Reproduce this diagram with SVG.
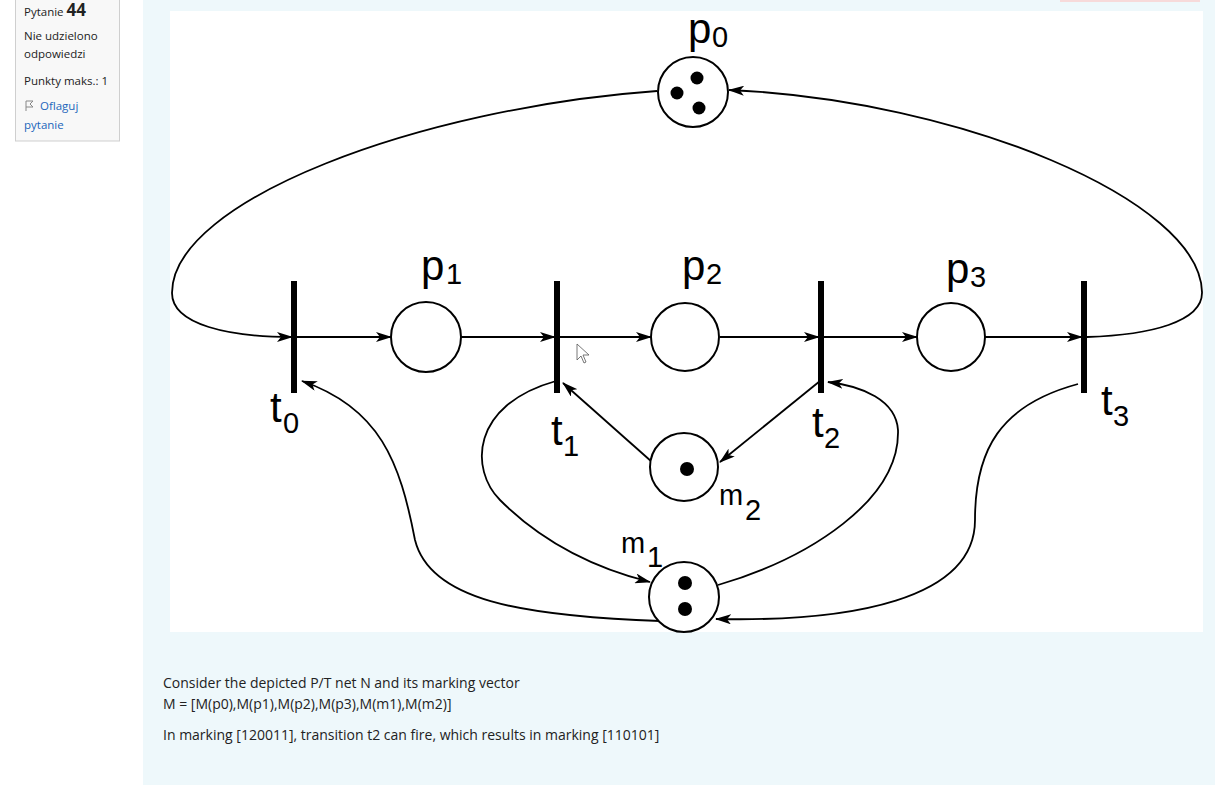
<svg xmlns="http://www.w3.org/2000/svg" width="1224" height="785" viewBox="0 0 1224 785">
<defs>
<marker id="arr" markerWidth="16" markerHeight="10" refX="15" refY="5" orient="auto" markerUnits="userSpaceOnUse">
<path d="M0,0 L16,5 L0,10 L4,5 Z" fill="#000"/>
</marker>
<style>
.pl{fill:#fff;stroke:#000;stroke-width:2}
.tr{fill:#000}
.tk{fill:#000}
.arc{fill:none;stroke:#000;stroke-width:1.8;marker-end:url(#arr)}
.ln{fill:none;stroke:#000;stroke-width:1.8}
.lb{font-family:"Liberation Sans",Arial,sans-serif;font-size:42px;fill:#000}
.sb{font-family:"Liberation Sans",Arial,sans-serif;font-size:29px;fill:#000}
.ui{font-family:"Open Sans","Liberation Sans",sans-serif;font-size:14px;fill:#222}
.side{font-family:"Open Sans","Liberation Sans",sans-serif;font-size:11.5px;fill:#222}
</style>
</defs>
<rect x="0" y="0" width="1224" height="785" fill="#fff"/>
<rect x="143" y="0" width="1072" height="785" fill="#eef8fb"/>
<rect x="1060" y="0" width="140" height="2" fill="#f7dada"/>
<g id="sidebar">
<rect x="15.5" y="-1" width="104" height="142" fill="#f8f8f8" stroke="#cfcfcf"/>
<text x="24" y="16" class="side" font-size="11">Pytanie <tspan font-weight="bold" font-size="17">44</tspan></text>
<text x="24" y="40" class="side">Nie udzielono</text>
<text x="24" y="58" class="side">odpowiedzi</text>
<text x="24" y="85" class="side">Punkty maks.: 1</text>
<path d="M26,101 L26,111 M26,101 L33,101 L30,104 L33,107 L26,107" fill="none" stroke="#888" stroke-width="1"/>
<text x="40" y="110" class="side" fill="#2266bb" style="fill:#2266bb">Oflaguj</text>
<text x="24" y="129" class="side" style="fill:#2266bb">pytanie</text>
</g>
<rect x="170" y="11" width="1033" height="621" fill="#fff"/>
<g id="connectors">
<line class="arc" x1="297" y1="337" x2="391" y2="337"/>
<line class="arc" x1="461" y1="337" x2="555" y2="337"/>
<line class="arc" x1="560" y1="337" x2="651" y2="337"/>
<line class="arc" x1="720" y1="337" x2="819" y2="337"/>
<line class="arc" x1="824" y1="337" x2="917" y2="337"/>
<line class="arc" x1="985" y1="337" x2="1082" y2="337"/>
<path class="arc" d="M657,91 C420,108 172,200 172,293 C172,325 230,337 292,337"/>
<path class="arc" d="M1087,337 C1150,335 1203,322 1202,292 C1200,200 960,100 729,90"/>
<path class="arc" d="M556,381 C470,405 470,470 500,500 C550,550 610,572 650,582"/>
<path class="arc" d="M718,585 C810,558 900,500 898,430 C896,400 862,386 828,382"/>
<line class="arc" x1="652" y1="462" x2="563" y2="383"/>
<line class="arc" x1="820" y1="381" x2="720" y2="462"/>
<path class="arc" d="M660,621 C520,616 430,600 415,540 C400,462 380,408 302,381"/>
<path class="arc" d="M1078,384 C1000,405 975,450 975,520 C975,600 850,622 716,619"/>
</g>
<g id="p0"><circle class="pl" cx="693" cy="92" r="35"/><circle class="tk" cx="697" cy="78" r="6.5"/><circle class="tk" cx="677" cy="93" r="6.5"/><circle class="tk" cx="699" cy="108" r="6.5"/><text class="lb" x="688" y="43">p</text><text class="sb" x="712" y="47">0</text></g>
<g id="p1"><circle class="pl" cx="426" cy="337" r="35"/><text class="lb" x="421" y="280">p</text><text class="sb" x="446" y="284">1</text></g>
<g id="p2"><circle class="pl" cx="685" cy="337" r="34"/><text class="lb" x="682" y="280">p</text><text class="sb" x="706" y="284">2</text></g>
<g id="p3"><circle class="pl" cx="951" cy="337" r="34"/><text class="lb" x="946" y="283">p</text><text class="sb" x="970" y="287">3</text></g>
<g id="m2"><circle class="pl" cx="684" cy="467" r="34"/><circle class="tk" cx="687" cy="469" r="7"/><text class="sb" x="719" y="505">m</text><text class="sb" x="745" y="520">2</text></g>
<g id="m1"><circle class="pl" cx="684" cy="597" r="35"/><circle class="tk" cx="685" cy="583" r="7"/><circle class="tk" cx="685" cy="609" r="7"/><text class="sb" x="621" y="553">m</text><text class="sb" x="647" y="567">1</text></g>
<g id="t0"><rect class="tr" x="291" y="281" width="6" height="112"/><text class="lb" x="270" y="422">t</text><text class="sb" x="283" y="433">0</text></g>
<g id="t1"><rect class="tr" x="554" y="281" width="6" height="112"/><text class="lb" x="551" y="445">t</text><text class="sb" x="563" y="456">1</text></g>
<g id="t2"><rect class="tr" x="818" y="281" width="6" height="112"/><text class="lb" x="812" y="437">t</text><text class="sb" x="824" y="448">2</text></g>
<g id="t3"><rect class="tr" x="1081" y="281" width="6" height="112"/><text class="lb" x="1101" y="415">t</text><text class="sb" x="1113" y="426">3</text></g>
<path d="M577,344 L577,360 L581,356 L584,363 L586,362 L583,355 L589,355 Z" fill="#fff" stroke="#555" stroke-width="0.8"/>
<g id="question">
<text class="ui" x="163" y="688">Consider the depicted P/T net N and its marking vector</text>
<text class="ui" x="163" y="709">M = [M(p0),M(p1),M(p2),M(p3),M(m1),M(m2)]</text>
<text class="ui" x="163" y="740">In marking [120011], transition t2 can fire, which results in marking [110101]</text>
</g>
</svg>
